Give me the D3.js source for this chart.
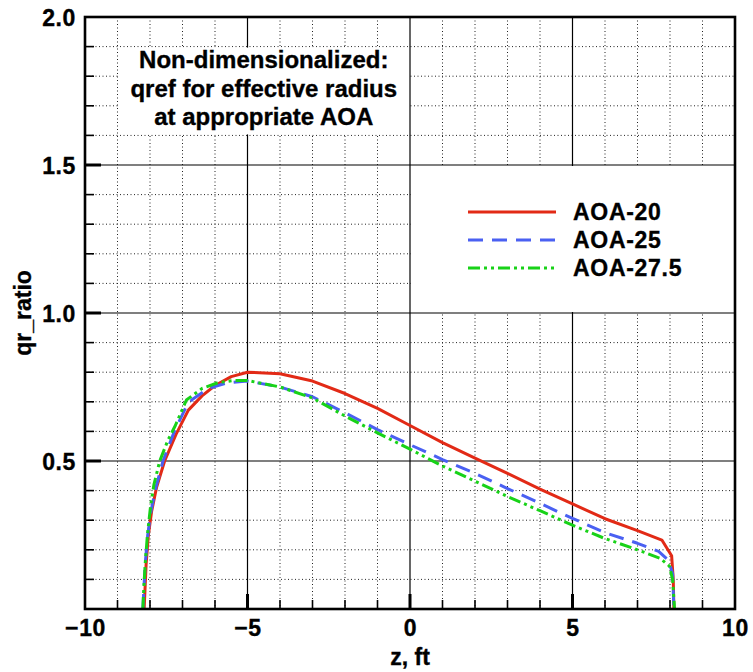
<!DOCTYPE html>
<html>
<head>
<meta charset="utf-8">
<script src="https://cdn.jsdelivr.net/npm/d3@7"></script>
<style>
  html, body { margin: 0; padding: 0; background: #fff; }
  svg { display: block; }
  text { font-family: "Liberation Sans", Arial, Helvetica, sans-serif; font-weight: bold; fill: #000; stroke: #000; stroke-width: 0.35px; }
</style>
</head>
<body>
<div id="chart"></div>
<script>
// qr_ratio profiles along z for three angles of attack: [z (ft), qr_ratio]
const aoa20 = [
  [-8.18, 0.00], [-8.12, 0.15], [-8.05, 0.25], [-7.95, 0.33], [-7.80, 0.41],
  [-7.55, 0.50], [-7.20, 0.59], [-6.82, 0.672], [-6.40, 0.72], [-6.00, 0.755],
  [-5.50, 0.785], [-5.00, 0.800], [-4.00, 0.795], [-3.00, 0.770], [-2.00, 0.728],
  [-1.00, 0.678], [0.00, 0.620], [1.00, 0.562], [2.00, 0.510], [3.00, 0.458],
  [4.00, 0.405], [5.00, 0.355], [6.00, 0.305], [7.00, 0.265], [7.75, 0.233],
  [8.05, 0.180], [8.10, 0.10], [8.12, 0.00]
];
const aoa25 = [
  [-8.22, 0.00], [-8.15, 0.15], [-8.07, 0.25], [-7.97, 0.33], [-7.82, 0.41],
  [-7.60, 0.50], [-7.25, 0.60], [-6.90, 0.680], [-6.70, 0.708], [-6.20, 0.745],
  [-5.60, 0.765], [-5.00, 0.770], [-4.00, 0.750], [-3.00, 0.717], [-2.00, 0.663],
  [-1.00, 0.606], [0.00, 0.555], [1.00, 0.505], [2.00, 0.458], [3.00, 0.407],
  [4.00, 0.357], [5.00, 0.306], [6.00, 0.258], [7.00, 0.222], [7.65, 0.195],
  [7.95, 0.165], [8.08, 0.12], [8.12, 0.00]
];
const aoa275 = [
  [-8.22, 0.00], [-8.20, 0.05], [-8.15, 0.15], [-8.08, 0.25], [-7.98, 0.35],
  [-7.88, 0.42], [-7.70, 0.50], [-7.45, 0.57], [-7.22, 0.62], [-6.88, 0.706],
  [-6.40, 0.745], [-5.90, 0.765], [-5.40, 0.772], [-5.00, 0.772], [-4.00, 0.750],
  [-3.00, 0.713], [-2.00, 0.652], [-1.00, 0.595], [0.00, 0.540], [1.00, 0.483],
  [2.00, 0.432], [3.00, 0.380], [4.00, 0.332], [5.00, 0.283], [6.00, 0.238],
  [7.00, 0.200], [7.70, 0.171], [7.98, 0.145], [8.08, 0.10], [8.14, 0.00]
];
const seriesNames = ["AOA-20", "AOA-25", "AOA-27.5"];
const xMajorTicks = [-10, -5, 0, 5, 10];
const yMajorTicks = [0.5, 1.0, 1.5, 2.0];
const noteLines = ["Non-dimensionalized:", "qref for effective radius", "at appropriate AOA"];
const xLabel = "z, ft";
const yLabel = "qr_ratio";

const W = 753, H = 672;
const x = d3.scaleLinear().domain([-10, 10]).range([85, 735]);
const y = d3.scaleLinear().domain([0, 2]).range([609, 17]);

const styles = [
  { color: "#e22a16", dash: null },
  { color: "#4a60f2", dash: "15,9" },
  { color: "#18d218", dash: "12,4,3,4,3,4" }
];
const seriesData = [aoa20, aoa25, aoa275];

const svg = d3.select("#chart").append("svg").attr("width", W).attr("height", H);

const [x0, x1] = x.range();
const [y0, y1] = y.range();

// minor dotted grid
const xMinor = d3.range(-9, 10, 1).filter(v => v % 5 !== 0);
const yMinor = d3.range(1, 20).map(i => i / 10).filter(v => Math.round(v * 10) % 5 !== 0);
const grid = svg.append("g");
grid.selectAll(".gx").data(xMinor).join("line")
  .attr("x1", d => x(d)).attr("x2", d => x(d)).attr("y1", y1).attr("y2", y0)
  .attr("stroke", "#222").attr("stroke-width", 1).attr("stroke-dasharray", "1,2.5");
grid.selectAll(".gy").data(yMinor).join("line")
  .attr("x1", x0).attr("x2", x1).attr("y1", d => y(d)).attr("y2", d => y(d))
  .attr("stroke", "#222").attr("stroke-width", 1).attr("stroke-dasharray", "1,2.5");
// major solid grid
grid.selectAll(".Gx").data([-5, 0, 5]).join("line")
  .attr("x1", d => x(d)).attr("x2", d => x(d)).attr("y1", y1).attr("y2", y0)
  .attr("stroke", "#000").attr("stroke-width", 1.2);
grid.selectAll(".Gy").data([0.5, 1.0, 1.5]).join("line")
  .attr("x1", x0).attr("x2", x1).attr("y1", d => y(d)).attr("y2", d => y(d))
  .attr("stroke", "#000").attr("stroke-width", 1.2);

// white panel behind the note text
svg.append("rect")
  .attr("x", x(-9) + 1).attr("y", y(1.9) + 1)
  .attr("width", x(0) - x(-9) - 2).attr("height", y(1.6) - y(1.9) - 2)
  .attr("fill", "#fff");
const noteCx = (x(-9) + x(0)) / 2;
svg.append("g").selectAll("text").data(noteLines).join("text")
  .attr("x", noteCx).attr("y", (d, i) => 68 + i * 28.5)
  .attr("text-anchor", "middle").attr("font-size", 24)
  .text(d => d);

// legend panel
svg.append("rect")
  .attr("x", x(0) + 1).attr("y", y(1.5) + 1)
  .attr("width", x(10) - x(0) - 2).attr("height", y(1.0) - y(1.5) - 2)
  .attr("fill", "#fff");
const leg = svg.append("g");
seriesNames.forEach((name, i) => {
  const ly = 212 + i * 28;
  leg.append("line")
    .attr("x1", 468).attr("x2", 556).attr("y1", ly).attr("y2", ly)
    .attr("stroke", styles[i].color).attr("stroke-width", 3)
    .attr("stroke-dasharray", styles[i].dash);
  leg.append("text").attr("x", 573).attr("y", ly + 8)
    .attr("font-size", 23).attr("letter-spacing", 0.7).text(name);
});

// curves
const line = d3.line().x(d => x(d[0])).y(d => y(d[1]));
svg.append("g").selectAll("path").data(seriesData).join("path")
  .attr("d", line)
  .attr("fill", "none")
  .attr("stroke", (d, i) => styles[i].color)
  .attr("stroke-width", 3)
  .attr("stroke-linejoin", "round")
  .attr("stroke-dasharray", (d, i) => styles[i].dash);

// axes with inward ticks
const fmtX = d3.format("d");
const xAxis = svg.append("g").attr("transform", `translate(0,${y0})`)
  .call(d3.axisBottom(x).tickValues(xMajorTicks).tickSize(0).tickPadding(0).tickFormat(fmtX));
xAxis.select(".domain").remove();
xAxis.selectAll("text").attr("y", 27).attr("dy", null).attr("font-size", 23)
  .attr("letter-spacing", 0.6)
  .style("font-family", '"Liberation Sans", Arial, sans-serif').style("font-weight", "bold");

const yAxis = svg.append("g").attr("transform", `translate(${x0},0)`)
  .call(d3.axisLeft(y).tickValues(yMajorTicks).tickSize(0).tickPadding(0).tickFormat(d3.format(".1f")));
yAxis.select(".domain").remove();
yAxis.selectAll("text").attr("x", -9).attr("dy", "0.36em").attr("font-size", 23)
  .attr("letter-spacing", 0.6)
  .style("font-family", '"Liberation Sans", Arial, sans-serif').style("font-weight", "bold");

// tick marks
const ticks = svg.append("g").attr("stroke", "#000");
ticks.selectAll(".xm").data(d3.range(-9, 10, 1)).join("line")
  .attr("x1", d => x(d)).attr("x2", d => x(d))
  .attr("y1", y0).attr("y2", d => y0 - (d % 5 === 0 ? 15 : 9))
  .attr("stroke-width", d => d % 5 === 0 ? 3 : 1.6);
ticks.selectAll(".ym").data(d3.range(1, 20).map(i => i / 10)).join("line")
  .attr("y1", d => y(d)).attr("y2", d => y(d))
  .attr("x1", x0).attr("x2", d => x0 + (Math.round(d * 10) % 5 === 0 ? 16 : 9))
  .attr("stroke-width", d => Math.round(d * 10) % 5 === 0 ? 3 : 1.6);

// frame
svg.append("rect").attr("x", x0).attr("y", y1)
  .attr("width", x1 - x0).attr("height", y0 - y1)
  .attr("fill", "none").attr("stroke", "#000").attr("stroke-width", 2.6);

// axis titles
svg.append("text").attr("x", (x0 + x1) / 2).attr("y", 665)
  .attr("text-anchor", "middle").attr("font-size", 23).text(xLabel);
svg.append("text").attr("transform", `translate(31,${(y0 + y1) / 2}) rotate(-90)`)
  .attr("text-anchor", "middle").attr("font-size", 23).text(yLabel);
</script>
</body>
</html>
